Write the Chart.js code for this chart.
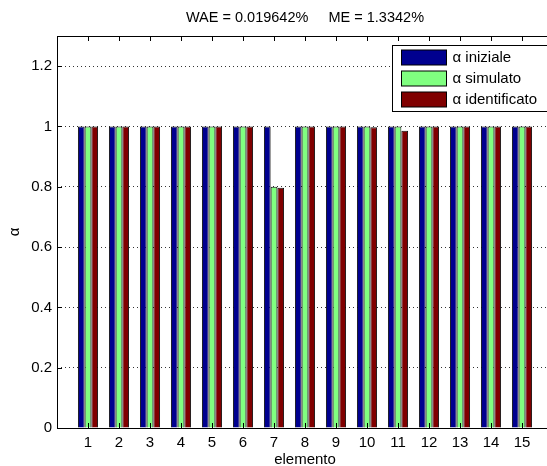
<!DOCTYPE html>
<html>
<head>
<meta charset="utf-8">
<script src="https://cdn.jsdelivr.net/npm/chart.js@4/dist/chart.umd.min.js"></script>
<style>
  html, body { margin: 0; padding: 0; background: #fff; overflow: hidden; }
  canvas { display: block; }
</style>
</head>
<body>
<canvas id="alphaChart" width="560" height="466"></canvas>
<script>
// valori
const elementi = [1, 2, 3, 4, 5, 6, 7, 8, 9, 10, 11, 12, 13, 14, 15];
const alphaIniziale = [1, 1, 1, 1, 1, 1, 1, 1, 1, 1, 1, 1, 1, 1, 1];
const alphaSimulato = [1, 1, 1, 1, 1, 1, 0.8, 1, 1, 1, 1, 1, 1, 1, 1];
const alphaIdentificato = [1, 1, 1, 1, 1, 1, 0.797, 1, 1, 0.997, 0.986, 1, 1, 1, 1];
const yTicks = [0, 0.2, 0.4, 0.6, 0.8, 1, 1.2];
const titolo = 'WAE = 0.019642%     ME = 1.3342%';

const FONT = "'Liberation Sans', Arial, Helvetica, sans-serif";
Chart.defaults.font.family = FONT;
Chart.defaults.font.size = 15;
Chart.defaults.color = '#000';

function punti(vals) {
    return vals.map((v, i) => ({ x: elementi[i], y: v }));
}

// titolo, box, tacche interne e legenda stile matlab
const matlabAxes = {
    id: 'matlabAxes',
    afterDraw(chart) {
        const { ctx, chartArea: a, scales: { x, y } } = chart;
        ctx.save();

        // titolo centrato sugli assi
        ctx.fillStyle = '#000';
        ctx.font = '14.5px ' + FONT;
        ctx.textAlign = 'center';
        ctx.textBaseline = 'middle';
        ctx.fillText(titolo, (a.left + a.right) / 2, a.top - 18);

        ctx.strokeStyle = '#000';
        ctx.lineWidth = 1;
        ctx.beginPath();
        elementi.forEach(v => {
            const px = Math.round(x.getPixelForValue(v)) + 0.5;
            ctx.moveTo(px, a.bottom); ctx.lineTo(px, a.bottom - 5);
            ctx.moveTo(px, a.top); ctx.lineTo(px, a.top + 5);
        });
        yTicks.forEach(v => {
            const py = Math.round(y.getPixelForValue(v)) + 0.5;
            ctx.moveTo(a.left, py); ctx.lineTo(a.left + 5, py);
            ctx.moveTo(a.right, py); ctx.lineTo(a.right - 5, py);
        });
        ctx.stroke();
        ctx.strokeRect(Math.round(a.left) + 0.5, Math.round(a.top) + 0.5,
            Math.round(a.right - a.left), Math.round(a.bottom - a.top));

        // legenda
        const bx = Math.round(a.right - 161) + 0.5;
        const by = Math.round(a.top + 9) + 0.5;
        const bw = 160;
        const bh = 66;
        ctx.font = '15px ' + FONT;
        ctx.fillStyle = '#fff';
        ctx.fillRect(bx, by, bw, bh);
        ctx.strokeRect(bx, by, bw, bh);
        ctx.textBaseline = 'middle';
        ctx.textAlign = 'left';
        chart.data.datasets.forEach((d, i) => {
            const sy = by + 4.5 + i * 21;
            ctx.fillStyle = d.backgroundColor;
            ctx.fillRect(bx + 9, sy, 45, 15);
            ctx.strokeRect(bx + 9, sy, 45, 15);
            ctx.fillStyle = '#000';
            ctx.fillText(d.label, bx + 60, sy + 8);
        });
        ctx.restore();
    }
};

const ctx = document.getElementById('alphaChart').getContext('2d');
new Chart(ctx, {
    type: 'bar',
    data: {
        datasets: [
            { label: 'α iniziale', data: punti(alphaIniziale), backgroundColor: '#00008f' },
            { label: 'α simulato', data: punti(alphaSimulato), backgroundColor: '#80ff80' },
            { label: 'α identificato', data: punti(alphaIdentificato), backgroundColor: '#800000' },
        ],
    },
    options: {
        responsive: false,
        animation: false,
        layout: { padding: { left: 0, right: 7, top: 36, bottom: 0 } },
        datasets: {
            bar: {
                categoryPercentage: 0.65,
                barPercentage: 1,
                borderColor: '#111',
                borderWidth: 1,
            },
        },
        plugins: {
            legend: { display: false },
            tooltip: { enabled: false },
            title: { display: false },
        },
        scales: {
            x: {
                type: 'linear',
                offset: false,
                min: 0,
                max: 16,
                grid: { display: false, drawTicks: false },
                border: { display: false },
                ticks: {
                    stepSize: 1,
                    padding: 6,
                    maxRotation: 0,
                    autoSkip: false,
                    callback: v => (elementi.includes(v) ? String(v) : ''),
                },
                title: {
                    display: true,
                    text: 'elemento',
                    font: { size: 15, lineHeight: 0.76 },
                    padding: { top: 0, bottom: 0 },
                },
                afterFit: s => { s.height = 38; },
            },
            y: {
                min: 0,
                max: 1.3,
                grid: {
                    drawTicks: false,
                    color: '#333',
                    lineWidth: 1,
                },
                border: { display: false, dash: [1, 3] },
                ticks: {
                    stepSize: 0.2,
                    includeBounds: false,
                    padding: 5,
                    callback: v => String(Math.round(v * 10) / 10),
                },
                afterBuildTicks: s => { s.ticks = yTicks.map(v => ({ value: v })); },
                title: {
                    display: true,
                    text: 'α',
                    font: { size: 15 },
                    padding: { top: 6, bottom: 0 },
                },
                afterFit: s => { s.width = 57; },
            },
        },
    },
    plugins: [matlabAxes],
});
</script>
</body>
</html>
